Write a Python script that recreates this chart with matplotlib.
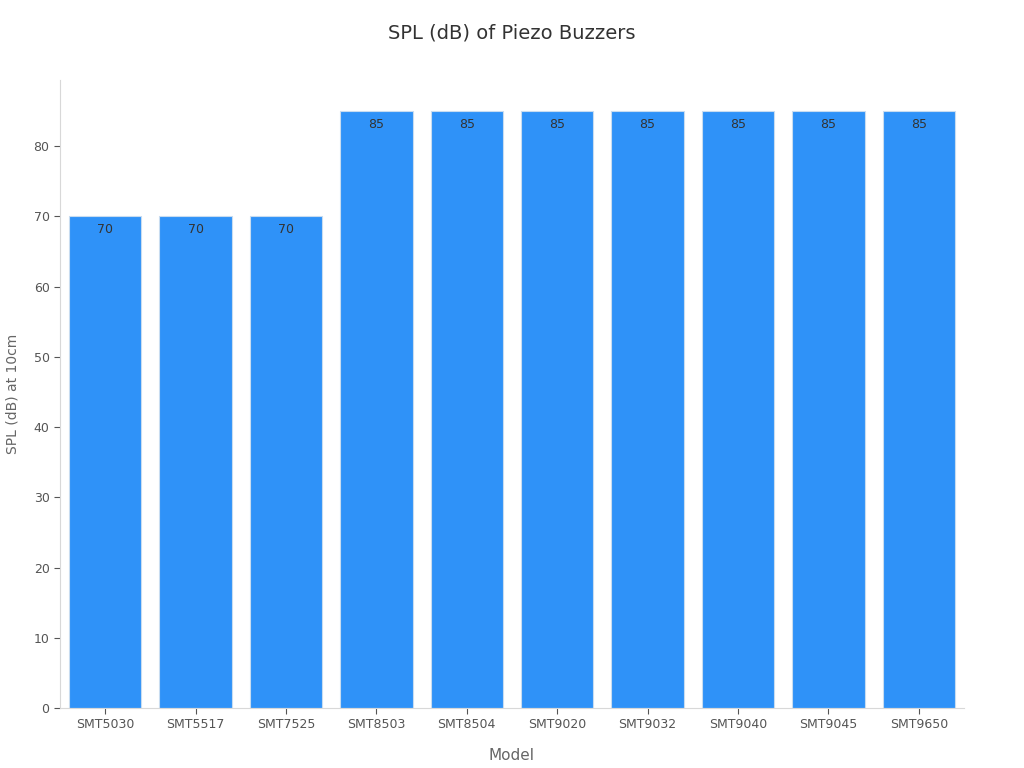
import matplotlib
matplotlib.use("Agg")
import matplotlib.pyplot as plt

models = ["SMT5030","SMT5517","SMT7525","SMT8503","SMT8504","SMT9020","SMT9032","SMT9040","SMT9045","SMT9650"]
spl = [70,70,70,85,85,85,85,85,85,85]

fig = plt.figure(figsize=(10.24,7.68), dpi=100)
ax = fig.add_axes([60/1024, 60/768, 904/1024, 628/768])
x = range(len(models))
bars = ax.bar(x, spl, width=0.8, color="#2f92f8", edgecolor="#c8dcf0", linewidth=0.8)
for xi, v in zip(x, spl):
    ax.text(xi, v-1, f"{v}", ha="center", va="top", fontsize=9, color="#333333")
ax.set_xlim(-0.5, 9.5)
ax.set_ylim(0, 89.4)
ax.set_xticks(list(x))
ax.set_xticklabels(models, fontsize=9, color="#222222")
ax.set_yticks(range(0, 81, 10))
ax.tick_params(axis="y", labelsize=9, colors="#222222")
ax.tick_params(colors="#555555", length=4)
for s in ["top","right"]:
    ax.spines[s].set_visible(False)
for s in ["left","bottom"]:
    ax.spines[s].set_color("#d8d8d8")
ax.set_xlabel("Model", fontsize=11, color="#666666", labelpad=12)
ax.set_ylabel("SPL (dB) at 10cm", fontsize=10, color="#666666", labelpad=10)
fig.suptitle("SPL (dB) of Piezo Buzzers", y=1-33/768, va="center", fontsize=14, color="#333333")
fig.savefig("out.png", dpi=100)
